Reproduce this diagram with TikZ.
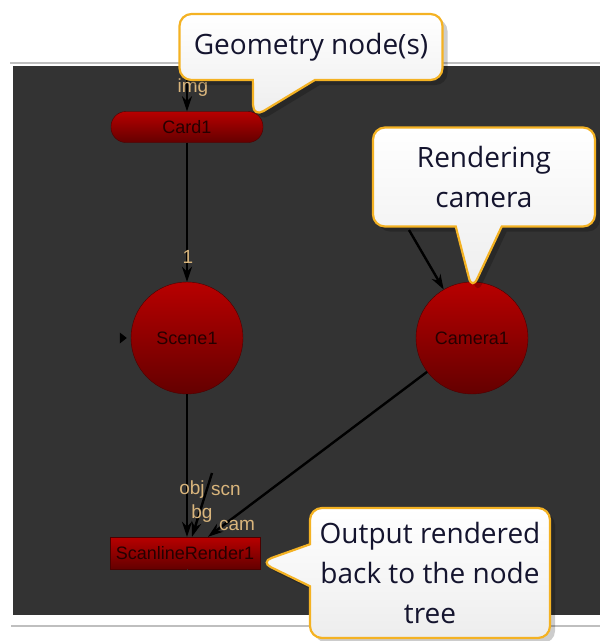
\documentclass[tikz,border=0pt]{standalone}
\usepackage{fontspec}
\setmainfont{Open Sans}
\newfontfamily\nukefont{Liberation Sans}
\usetikzlibrary{arrows.meta,positioning,shapes.callouts,shadows}

\definecolor{panelgrey}{HTML}{333333}
\definecolor{nodered}{HTML}{B80000}
\definecolor{nodedark}{HTML}{640000}
\definecolor{porttan}{HTML}{D9B57C}
\definecolor{noteorange}{HTML}{F4B223}
\definecolor{notetext}{HTML}{14142E}

\begin{document}
\begin{tikzpicture}[
      x=1pt, y=-1pt,
      wire/.style={draw=black, line width=2.4pt, -{Stealth[length=15pt,width=10pt]}},
      port/.style={text=porttan, font=\nukefont\fontsize{19}{19}\selectfont, inner sep=0pt},
      nukenode/.style={draw=black!70!red, top color=nodered, bottom color=nodedark, font=\nukefont\fontsize{18}{18}\selectfont, text=black!85!red, inner sep=0pt},
      ball/.style={nukenode, circle, minimum size=112pt},
      pill/.style={nukenode, rectangle, rounded corners=15pt, minimum width=152pt, minimum height=31pt},
      note/.style={rectangle callout, rounded corners=12pt, draw=noteorange, line width=2.2pt, top color=white, bottom color=black!7, align=center, text=notetext, font=\fontsize{28}{40}\selectfont, inner sep=0pt, drop shadow={shadow xshift=5pt, shadow yshift=-5pt, opacity=0.2, fill=black}},
    ]
    \useasboundingbox (0,0) rectangle (600,641);
    % node graph panel
    \fill[panelgrey] (13,66) rectangle (600,615);
    \draw[black!25, line width=1.5pt] (10,63) -- (600,63);
    \draw[black!25, line width=1.5pt] (11,626) -- (600,626);

    \node[pill] (card) at (187,127) {Card1};
    \node[ball] (scene) at (187,338) {Scene1};
    \node[ball] (camera) at (472,338) {Camera1};
    \node[nukenode, minimum width=150pt, minimum height=32pt] (render) at (185,553) {ScanlineRender1};

    \coordinate (imgin) at (187,67);
    \coordinate (camin) at (409,230);
    \coordinate (bgin) at (212,473);
    \coordinate (out) at (187,615);

    \draw[wire] (imgin) -- (card.north);
    \draw[wire] (card.south) -- (scene.north);
    \draw[wire] (scene.south) -- (scene.south |- render.north);
    \draw[wire] (bgin) -- ([xshift=7pt]render.north);
    \draw[wire] (camera) -- ([xshift=23pt]render.north);
    \draw[wire] (camin) -- (camera);
    \draw[black!80, line width=0.8pt] (render.south -| scene.south) -- (out);
    \fill[black] ([xshift=-11pt,yshift=5.5pt]scene.west) -- ([xshift=-4pt]scene.west) -- ([xshift=-11pt,yshift=-5.5pt]scene.west) -- cycle;

    % input labels
    \node[port] (imglabel) at (193,88) {img};
    \node[port] (onelabel) at (188,257) {1};
    \node[port] (objlabel) at (192,490) {obj};
    \node[port] (scnlabel) at (226,490) {scn};
    \node[port] (bglabel) at (202,514) {bg};
    \node[port] (camlabel) at (237,525) {cam};

    % callouts
    \node[note, minimum width=263pt, minimum height=66pt, callout pointer width=62pt,
          callout absolute pointer={([xshift=-10pt,yshift=-6pt]card.north east)}] (geomnote) at (311,47) {Geometry node(s)};
    \node[note, minimum width=222pt, minimum height=99pt, callout pointer width=46pt,
          callout absolute pointer={([yshift=-8pt]camera.north)}] (camnote) at (484,177) {Rendering\\camera};
    \node[note, minimum width=240pt, minimum height=130pt, callout pointer width=42pt,
          callout absolute pointer={([yshift=-9pt]render.east)}] (outnote) at (430,573) {Output rendered\\back to the node\\tree};
  \end{tikzpicture}
\end{document}
